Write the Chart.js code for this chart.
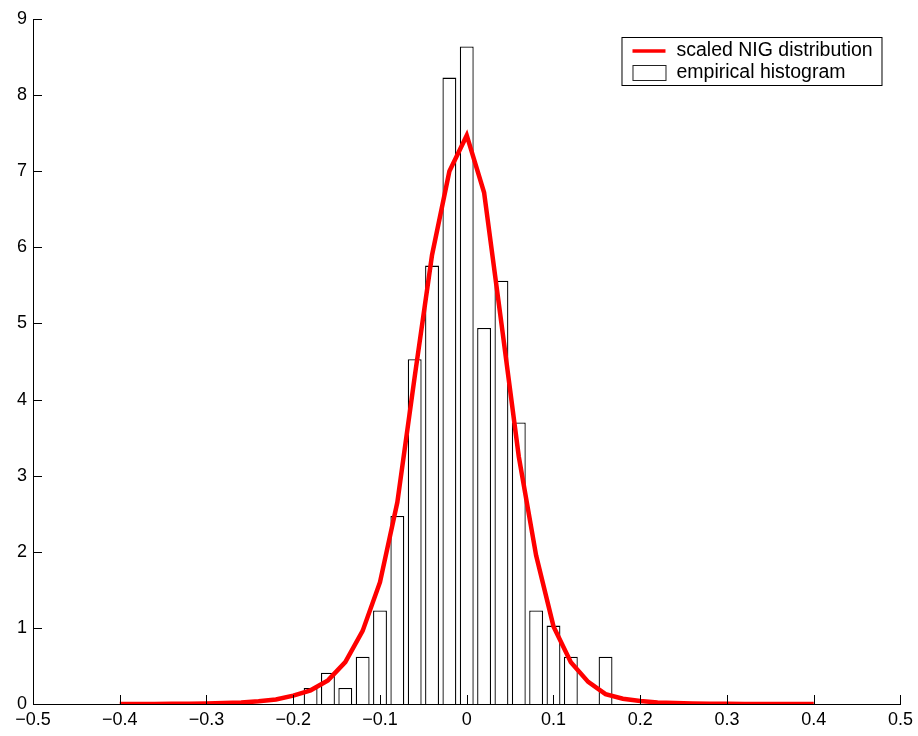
<!DOCTYPE html>
<html>
<head>
<meta charset="utf-8">
<script src="https://cdn.jsdelivr.net/npm/chart.js@4/dist/chart.umd.min.js"></script>
<style>
  html, body { margin: 0; padding: 0; background: #fff; }
  #wrap { width: 918px; height: 736px; }
</style>
</head>
<body>
<div id="wrap"><canvas id="nigChart" width="918" height="736"></canvas></div>
<script>
// bin centres of the histogram (also where the NIG curve is sampled)
const binCenters = [
  -0.40, -0.38, -0.36, -0.34, -0.32, -0.30, -0.28, -0.26, -0.24, -0.22,
  -0.20, -0.18, -0.16, -0.14, -0.12, -0.10, -0.08, -0.06, -0.04, -0.02,
   0.00,  0.02,  0.04,  0.06,  0.08,  0.10,  0.12,  0.14,  0.16,  0.18,
   0.20,  0.22,  0.24,  0.26,  0.28,  0.30,  0.32,  0.34,  0.36,  0.38,
   0.40
];

// empirical histogram (density)
const histHeights = [
  0, 0, 0, 0, 0, 0, 0, 0, 0, 0,
  0, 0.21, 0.41, 0.21, 0.62, 1.23, 2.47, 4.53, 5.76, 8.23,
  8.64, 4.94, 5.56, 3.70, 1.23, 1.03, 0.62, 0, 0.62, 0,
  0, 0, 0, 0, 0, 0, 0, 0, 0, 0,
  0
];

// scaled NIG density
const nigValues = [
  0, 0, 0.001, 0.002, 0.004, 0.007, 0.012, 0.02, 0.035, 0.06,
  0.11, 0.18, 0.31, 0.55, 0.96, 1.6, 2.65, 4.3, 5.9, 7.0,
  7.47, 6.72, 5.0, 3.25, 1.95, 1.02, 0.55, 0.29, 0.13, 0.07,
  0.04, 0.02, 0.012, 0.007, 0.004, 0.002, 0.001, 0, 0, 0,
  0
];

const xTicks = [-0.5, -0.4, -0.3, -0.2, -0.1, 0, 0.1, 0.2, 0.3, 0.4, 0.5];
const yTicks = [0, 1, 2, 3, 4, 5, 6, 7, 8, 9];

const legendLabels = ["scaled NIG distribution", "empirical histogram"];

const FONT = "'Liberation Sans', Arial, Helvetica, sans-serif";

function fmt(v) {
  const r = Math.round(v * 10) / 10;
  if (r === 0) return "0";
  return (r < 0 ? "\u2212" : "") + Math.abs(r).toFixed(1);
}

// MATLAB style ticks pointing into the axes
const inwardTicks = {
  id: "inwardTicks",
  afterDatasetsDraw(chart) {
    const ctx = chart.ctx;
    const area = chart.chartArea;
    const xs = chart.scales.x, ys = chart.scales.y;
    ctx.save();
    ctx.strokeStyle = "#000";
    ctx.lineWidth = 1;
    ctx.beginPath();
    xTicks.forEach(t => {
      const px = Math.round(xs.getPixelForValue(t)) + 0.5;
      ctx.moveTo(px, area.bottom);
      ctx.lineTo(px, area.bottom - 9);
    });
    yTicks.forEach(t => {
      const py = Math.round(ys.getPixelForValue(t)) + 0.5;
      ctx.moveTo(area.left, py);
      ctx.lineTo(area.left + 9, py);
    });
    ctx.stroke();
    ctx.restore();
  }
};

// boxed legend in the upper right
const boxLegend = {
  id: "boxLegend",
  afterDraw(chart) {
    const ctx = chart.ctx;
    const area = chart.chartArea;
    const right = area.right - 19;
    const left = right - 260;
    const top = area.top + 18;
    const h = 48;
    ctx.save();
    ctx.fillStyle = "#fff";
    ctx.fillRect(left, top, right - left, h);
    ctx.strokeStyle = "#000";
    ctx.lineWidth = 1;
    ctx.strokeRect(left + 0.5, top + 0.5, right - left, h);

    const row1 = top + 14, row2 = top + 36;
    // red line sample
    ctx.strokeStyle = "#ff0000";
    ctx.lineWidth = 3.5;
    ctx.beginPath();
    ctx.moveTo(left + 11, row1);
    ctx.lineTo(left + 44, row1);
    ctx.stroke();
    // bar sample
    ctx.strokeStyle = "#222";
    ctx.lineWidth = 1;
    ctx.strokeRect(left + 11.5, row2 - 7.5, 33, 15);

    ctx.fillStyle = "#000";
    ctx.font = "19.5px " + FONT;
    ctx.textBaseline = "middle";
    ctx.fillText(legendLabels[0], left + 55, row1);
    ctx.fillText(legendLabels[1], left + 55, row2);
    ctx.restore();
  }
};

const ctx = document.getElementById("nigChart").getContext("2d");
const nigChart = new Chart(ctx, {
  type: "bar",
  data: {
    datasets: [{
      type: "line",
      label: legendLabels[0],
      data: binCenters.map((x, i) => ({ x: x, y: nigValues[i] })),
      borderColor: "#ff0000",
      borderWidth: 4.5,
      tension: 0,
      pointRadius: 0,
      fill: false,
      order: 0
    }, {
      type: "bar",
      label: legendLabels[1],
      data: binCenters.map((x, i) => ({ x: x, y: histHeights[i] })),
      backgroundColor: "#ffffff",
      borderColor: "#000",
      borderWidth: 1.3,
      barPercentage: 1,
      categoryPercentage: 0.8,
      order: 1
    }]
  },
  options: {
    responsive: false,
    animation: false,
    layout: { padding: { top: 19, right: 15, left: 0, bottom: 0 } },
    scales: {
      x: {
        type: "linear",
        offset: false,
        min: -0.5,
        max: 0.5,
        afterFit: s => { s.height = 32; },
        afterBuildTicks: s => { s.ticks = xTicks.map(v => ({ value: v })); },
        ticks: {
          callback: v => fmt(v),
          color: "#000",
          font: { family: FONT, size: 18 },
          padding: 5,
          maxRotation: 0,
          autoSkip: false
        },
        grid: { display: false, drawTicks: false },
        border: { display: true, color: "#000", width: 1 }
      },
      y: {
        min: 0,
        max: 9,
        afterFit: s => { s.width = 33; },
        afterBuildTicks: s => { s.ticks = yTicks.map(v => ({ value: v })); },
        ticks: {
          callback: v => String(v),
          color: "#000",
          font: { family: FONT, size: 18 },
          padding: 6,
          autoSkip: false
        },
        grid: { display: false, drawTicks: false },
        border: { display: true, color: "#000", width: 1 }
      }
    },
    plugins: {
      legend: { display: false },
      tooltip: { enabled: false }
    }
  },
  plugins: [inwardTicks, boxLegend]
});
</script>
</body>
</html>
